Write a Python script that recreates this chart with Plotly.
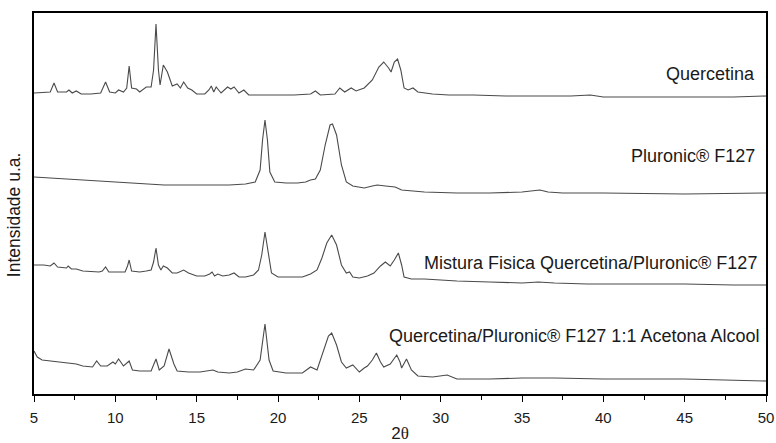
import plotly.graph_objects as go

# --- Quercetina ---
tt_quer = [5.0, 5.6, 6.0, 6.23, 6.45, 7.0, 7.15, 7.35, 7.6, 7.9, 8.5, 9.1, 9.4, 9.65, 10.0, 10.2, 10.5,
           10.7, 10.85, 11.0, 11.3, 11.5, 11.9, 12.2, 12.35, 12.5, 12.65, 12.75, 12.95, 13.2, 13.5, 13.8,
           14.0, 14.2, 14.45, 14.7, 15.0, 15.5, 15.75, 15.9, 16.05, 16.2, 16.5, 16.9, 17.1, 17.3, 17.6,
           17.9, 18.2, 19.0, 20.0, 21.0, 22.0, 22.3, 22.6, 23.5, 23.8, 24.1, 24.5, 24.8, 25.3, 25.8,
           26.2, 26.5, 26.8, 26.95, 27.15, 27.35, 27.55, 27.75, 28.0, 28.3, 28.6, 29.5, 30.5, 32.0,
           34.0, 36.0, 38.0, 39.2, 40.0, 42.0, 45.0, 48.0, 50.0]
int_quer = [7, 8, 8, 17, 8, 8, 10, 7, 9, 6, 6, 7, 18, 8, 7, 10, 8,
            12, 34, 12, 11, 8, 13, 13, 30, 76, 30, 15, 35, 28, 14, 16,
            12, 18, 12, 10, 6, 6, 10, 14, 8, 13, 7, 13, 11, 13, 7,
            10, 5, 5, 5, 5, 6, 9, 5, 6, 12, 8, 12, 9, 12, 20,
            33, 38, 32, 28, 38, 41, 30, 12, 10, 12, 8, 6, 5, 5,
            4, 4, 4, 5, 3, 3, 3, 3, 4]

# --- Pluronic F127 ---
tt_plur = [5.0, 6.0, 7.0, 8.0, 9.0, 10.0, 11.0, 12.0, 13.0, 14.0, 15.0, 16.0, 17.0, 18.0, 18.6, 18.9,
           19.05, 19.2, 19.35, 19.5, 19.8, 20.5, 21.2, 21.7, 22.0, 22.3, 22.6, 22.9, 23.2, 23.35, 23.6,
           23.9, 24.2, 24.6, 25.3, 25.8, 26.1, 26.6, 27.2, 27.6, 28.3, 29.0, 31.0, 33.0, 35.0, 35.6,
           36.1, 36.6, 37.5, 40.0, 45.0, 50.0]
int_plur = [23, 22, 21, 20, 19, 18, 17, 16, 15, 15, 15, 15, 15, 16, 18, 30,
            60, 80, 60, 28, 18, 17, 17, 18, 20, 21, 30, 55, 75, 76, 65,
            35, 18, 14, 12, 14, 15, 14, 13, 10, 9, 8, 7, 7, 8, 9,
            10, 8, 7, 7, 6, 7]

# --- Mistura fisica ---
tt_mist = [5.0, 5.6, 6.0, 6.23, 6.45, 7.0, 7.1, 7.3, 7.6, 8.0, 9.0, 9.2, 9.4, 9.6, 10.2, 10.6, 10.75,
           10.85, 11.0, 11.5, 11.9, 12.2, 12.35, 12.5, 12.65, 12.8, 12.95, 13.2, 13.5, 13.8, 14.2, 14.5,
           15.0, 15.5, 15.8, 15.95, 16.1, 16.3, 16.6, 17.0, 17.3, 17.6, 18.0, 18.5, 18.8, 19.0, 19.2,
           19.4, 19.6, 20.0, 21.0, 21.5, 22.0, 22.4, 22.7, 23.0, 23.3, 23.6, 23.9, 24.2, 24.4, 24.6,
           25.0, 25.5, 25.9, 26.3, 26.6, 26.9, 27.15, 27.4, 27.6, 27.75, 28.2, 29.0, 30.0, 31.0, 33.0,
           35.0, 36.0, 37.0, 39.0, 42.0, 45.0, 48.0, 50.0]
int_mist = [25, 25, 24, 27, 23, 22, 24, 21, 21, 19, 18, 19, 23, 18, 18, 18, 24,
            30, 19, 18, 19, 20, 28, 42, 25, 20, 24, 22, 17, 17, 20, 17,
            14, 14, 16, 18, 14, 16, 14, 15, 17, 13, 13, 15, 20, 35, 58,
            35, 17, 13, 13, 13, 16, 20, 32, 47, 55, 45, 25, 17, 18, 13,
            12, 14, 17, 24, 28, 24, 30, 37, 25, 13, 11, 11, 10, 9, 8,
            7, 8, 7, 6, 6, 6, 5, 5]

# --- Quercetina/Pluronic F127 1:1 Acetona Alcool ---
tt_acet = [5.0, 5.2, 5.5, 6.0, 6.5, 7.1, 7.3, 7.6, 8.0, 8.6, 8.85, 9.1, 9.5, 9.85, 10.0, 10.2, 10.5,
           10.85, 11.05, 11.5, 12.2, 12.5, 12.7, 13.0, 13.3, 13.6, 13.8, 14.5, 15.2, 15.5, 16.0, 16.3,
           17.0, 17.5, 18.0, 18.5, 18.9, 19.2, 19.45, 19.7, 20.5, 21.5, 22.0, 22.4, 22.8, 23.1, 23.3,
           23.6, 23.9, 24.2, 24.6, 25.0, 25.3, 25.5, 25.8, 26.05, 26.3, 26.5, 26.9, 27.3, 27.5, 27.6,
           27.9, 28.2, 28.6, 29.5, 30.4, 31.0, 33.0, 35.0, 37.0, 40.0, 45.0, 48.0, 50.0]
int_acet = [34, 28, 25, 24, 23, 22, 22, 21, 19, 18, 24, 19, 19, 23, 21, 26, 19,
            24, 15, 14, 14, 26, 15, 19, 36, 21, 14, 13, 13, 14, 15, 13,
            12, 13, 16, 15, 25, 61, 25, 14, 12, 12, 18, 15, 35, 49, 52,
            40, 23, 17, 20, 13, 17, 19, 25, 32, 23, 18, 21, 30, 23, 17,
            26, 15, 9, 8, 10, 6, 6, 7, 7, 6, 6, 5, 4]

labels = ["Quercetina", "Pluronic® F127", "Mistura Fisica Quercetina/Pluronic® F127",
          "Quercetina/Pluronic® F127 1:1 Acetona Alcool"]
x_ticks = [5, 10, 15, 20, 25, 30, 35, 40, 45, 50]

series = [(tt_quer, int_quer), (tt_plur, int_plur), (tt_mist, int_mist), (tt_acet, int_acet)]
offsets = [294, 194, 104, 9]          # vertical stacking of the patterns
label_pos = [(49.44, 320), (49.44, 238), (49.6, 131), (49.75, 58)]

FONT = "Liberation Sans, Arial"

fig = go.Figure()
for (tt, inten), off in zip(series, offsets):
    fig.add_trace(go.Scatter(
        x=tt, y=[v + off for v in inten], mode="lines",
        line=dict(color="#4a4a4a", width=1.1), showlegend=False, hoverinfo="skip"))

for text, (lx, ly) in zip(labels, label_pos):
    fig.add_annotation(x=lx, y=ly, xref="x", yref="y", text=text, showarrow=False,
                       xanchor="right", yanchor="middle",
                       font=dict(family=FONT, size=18, color="#1a1a1a"))

fig.add_annotation(x=-0.027, y=0.47, xref="paper", yref="paper", text="Intensidade u.a.",
                   textangle=-90, showarrow=False, xanchor="center", yanchor="middle",
                   font=dict(family=FONT, size=17.5, color="#1a1a1a"))

fig.update_layout(
    width=776, height=443,
    margin=dict(l=34, r=10, t=13, b=49, autoexpand=False),
    paper_bgcolor="white", plot_bgcolor="white",
    font=dict(family=FONT, color="#1a1a1a"),
    xaxis=dict(
        range=[5, 50], tickvals=x_ticks, ticktext=[str(t) for t in x_ticks],
        automargin=False,
        ticks="outside", ticklen=6, tickwidth=1.3, tickcolor="black",
        minor=dict(ticks="outside", ticklen=4, tickwidth=1.2, tickcolor="black", dtick=2.5, tick0=5),
        showline=True, linecolor="black", linewidth=1.5, mirror=True,
        showgrid=False, zeroline=False,
        ticklabelstandoff=3,
        tickfont=dict(size=15, family=FONT, color="#1a1a1a"),
        title=dict(text="2<span style='font-family:Liberation Serif'>θ</span>",
                   font=dict(size=17, family=FONT, color="#1a1a1a"),
                   standoff=5),
    ),
    yaxis=dict(
        range=[0, 381], showticklabels=False, ticks="", automargin=False,
        showline=True, linecolor="black", linewidth=1.5, mirror=True,
        showgrid=False, zeroline=False,
    ),
)

fig.write_html("out.html")
